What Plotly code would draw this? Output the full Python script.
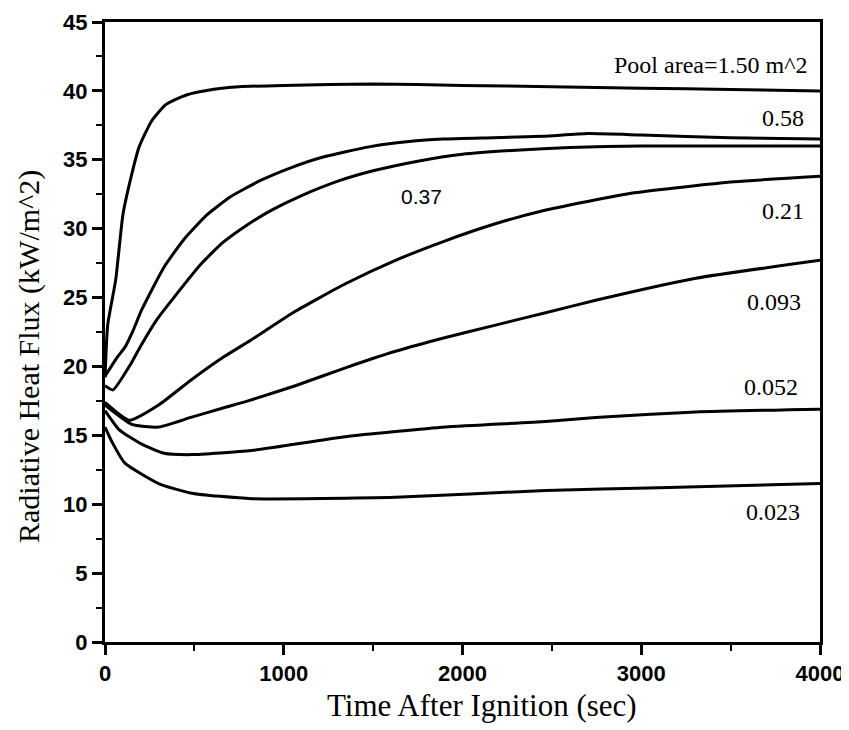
"""Radiative heat flux vs time after ignition, for several pool areas."""

import plotly.graph_objects as go

# series (time in sec, flux in kW/m^2)
t_150 = [0, 15, 60, 100, 145, 190, 260, 340, 455, 600, 750, 1000, 1500, 2000, 2500, 3000, 3500, 4000]
q_150 = [19.2, 23.0, 26.3, 31.0, 33.7, 35.9, 37.8, 39.0, 39.7, 40.1, 40.3, 40.4, 40.5, 40.4, 40.3, 40.2, 40.1, 40.0]

t_058 = [0, 70, 112, 157, 205, 330, 440, 570, 700, 870, 1035, 1220, 1460, 1610, 1890, 2170, 2450, 2700, 3000, 3500, 4000]
q_058 = [19.3, 20.7, 21.4, 22.6, 24.1, 27.2, 29.2, 31.0, 32.3, 33.5, 34.4, 35.2, 35.9, 36.2, 36.5, 36.6, 36.7, 36.9, 36.8, 36.6, 36.5]

t_037 = [0, 45, 145, 196, 290, 385, 535, 660, 810, 940, 1100, 1315, 1500, 1750, 2000, 2300, 2600, 3000, 3500, 4000]
q_037 = [18.6, 18.3, 20.2, 21.4, 23.4, 25.0, 27.4, 29.0, 30.4, 31.4, 32.4, 33.5, 34.2, 34.9, 35.4, 35.7, 35.9, 36.0, 36.0, 36.0]

t_021 = [0, 137, 300, 480, 665, 815, 1065, 1345, 1625, 1900, 2170, 2450, 2960, 3520, 4000]
q_021 = [17.4, 16.1, 17.2, 19.0, 20.7, 21.9, 24.0, 26.0, 27.7, 29.1, 30.3, 31.3, 32.6, 33.4, 33.8]

t_0093 = [0, 150, 300, 480, 665, 800, 1065, 1345, 1625, 1905, 2185, 2465, 2745, 3305, 4000]
q_0093 = [17.2, 15.8, 15.6, 16.3, 17.0, 17.5, 18.6, 19.9, 21.1, 22.1, 23.0, 23.9, 24.8, 26.4, 27.7]

t_0052 = [0, 80, 200, 330, 485, 820, 1345, 1905, 2465, 2745, 3305, 4000]
q_0052 = [16.8, 15.4, 14.4, 13.7, 13.6, 13.9, 14.9, 15.6, 16.0, 16.3, 16.7, 16.9]

t_0023 = [0, 40, 110, 300, 485, 820, 1625, 2465, 3100, 4000]
q_0023 = [15.6, 14.5, 13.0, 11.5, 10.8, 10.4, 10.5, 11.0, 11.2, 11.5]

series = [
    (t_150, q_150), (t_058, q_058), (t_037, q_037), (t_021, q_021),
    (t_0093, q_0093), (t_0052, q_0052), (t_0023, q_0023),
]

# curve labels and where they sit (data coords)
label_text = ["Pool area=1.50 m^2", "0.58", "0.37", "0.21", "0.093", "0.052", "0.023"]
label_x = [3940, 3920, 1770, 3920, 3905, 3890, 3900]
label_y = [41.9, 38.0, 32.3, 31.3, 24.7, 18.5, 9.4]
label_anchor = ["right", "right", "center", "right", "right", "right", "right"]
label_sans = [False, False, True, False, False, False, False]

X_TITLE = "Time After Ignition (sec)"
Y_TITLE = "Radiative Heat Flux (kW/m^2)"

SERIF = "Liberation Serif, Times New Roman, serif"
SANS = "Liberation Sans, Arial, sans-serif"

fig = go.Figure()
for t, q in series:
    fig.add_trace(
        go.Scatter(
            x=t, y=q, mode="lines",
            line=dict(color="black", width=3, shape="spline", smoothing=0.5),
            showlegend=False, hoverinfo="skip",
        )
    )

for txt, x, y, anc, sans in zip(label_text, label_x, label_y, label_anchor, label_sans):
    fig.add_annotation(
        x=x, y=y, text=txt, showarrow=False, xanchor=anc, yanchor="middle",
        font=dict(family=SANS if sans else SERIF, size=21 if sans else 24, color="black"),
    )

# axis titles sit a bit off-centre in the original, so place them by hand
fig.add_annotation(
    text=X_TITLE, xref="paper", yref="paper", x=0.527, y=-0.102,
    xanchor="center", yanchor="middle", showarrow=False,
    font=dict(family=SERIF, size=31, color="black"),
)
fig.add_annotation(
    text=Y_TITLE, xref="paper", yref="paper", x=-0.106, y=0.46, textangle=-90,
    xanchor="center", yanchor="middle", showarrow=False,
    font=dict(family=SERIF, size=30, color="black"),
)

axis_common = dict(
    showline=True, linecolor="black", linewidth=3, mirror=True,
    showgrid=False, zeroline=False, automargin=False,
    ticks="outside", ticklen=10, tickwidth=3, tickcolor="black",
    tickfont=dict(family=SANS, size=22, color="black", weight="bold"),
)

fig.update_xaxes(
    **axis_common,
    range=[0, 4000], tickvals=[0, 1000, 2000, 3000, 4000],
    ticklabelstandoff=0,
    minor=dict(dtick=500, ticks="outside", ticklen=6, tickwidth=2, tickcolor="black"),
)
fig.update_yaxes(
    **axis_common,
    range=[0, 45], dtick=5,
    ticklabelstandoff=0,
    minor=dict(dtick=2.5, ticks="outside", ticklen=6, tickwidth=2, tickcolor="black"),
)

# the page body adds an 8px offset, so margins are trimmed by that much
fig.update_layout(
    width=849, height=730,
    margin=dict(l=97, r=37, t=14, b=96),
    paper_bgcolor="white", plot_bgcolor="white",
)

fig.write_html("out.html")
